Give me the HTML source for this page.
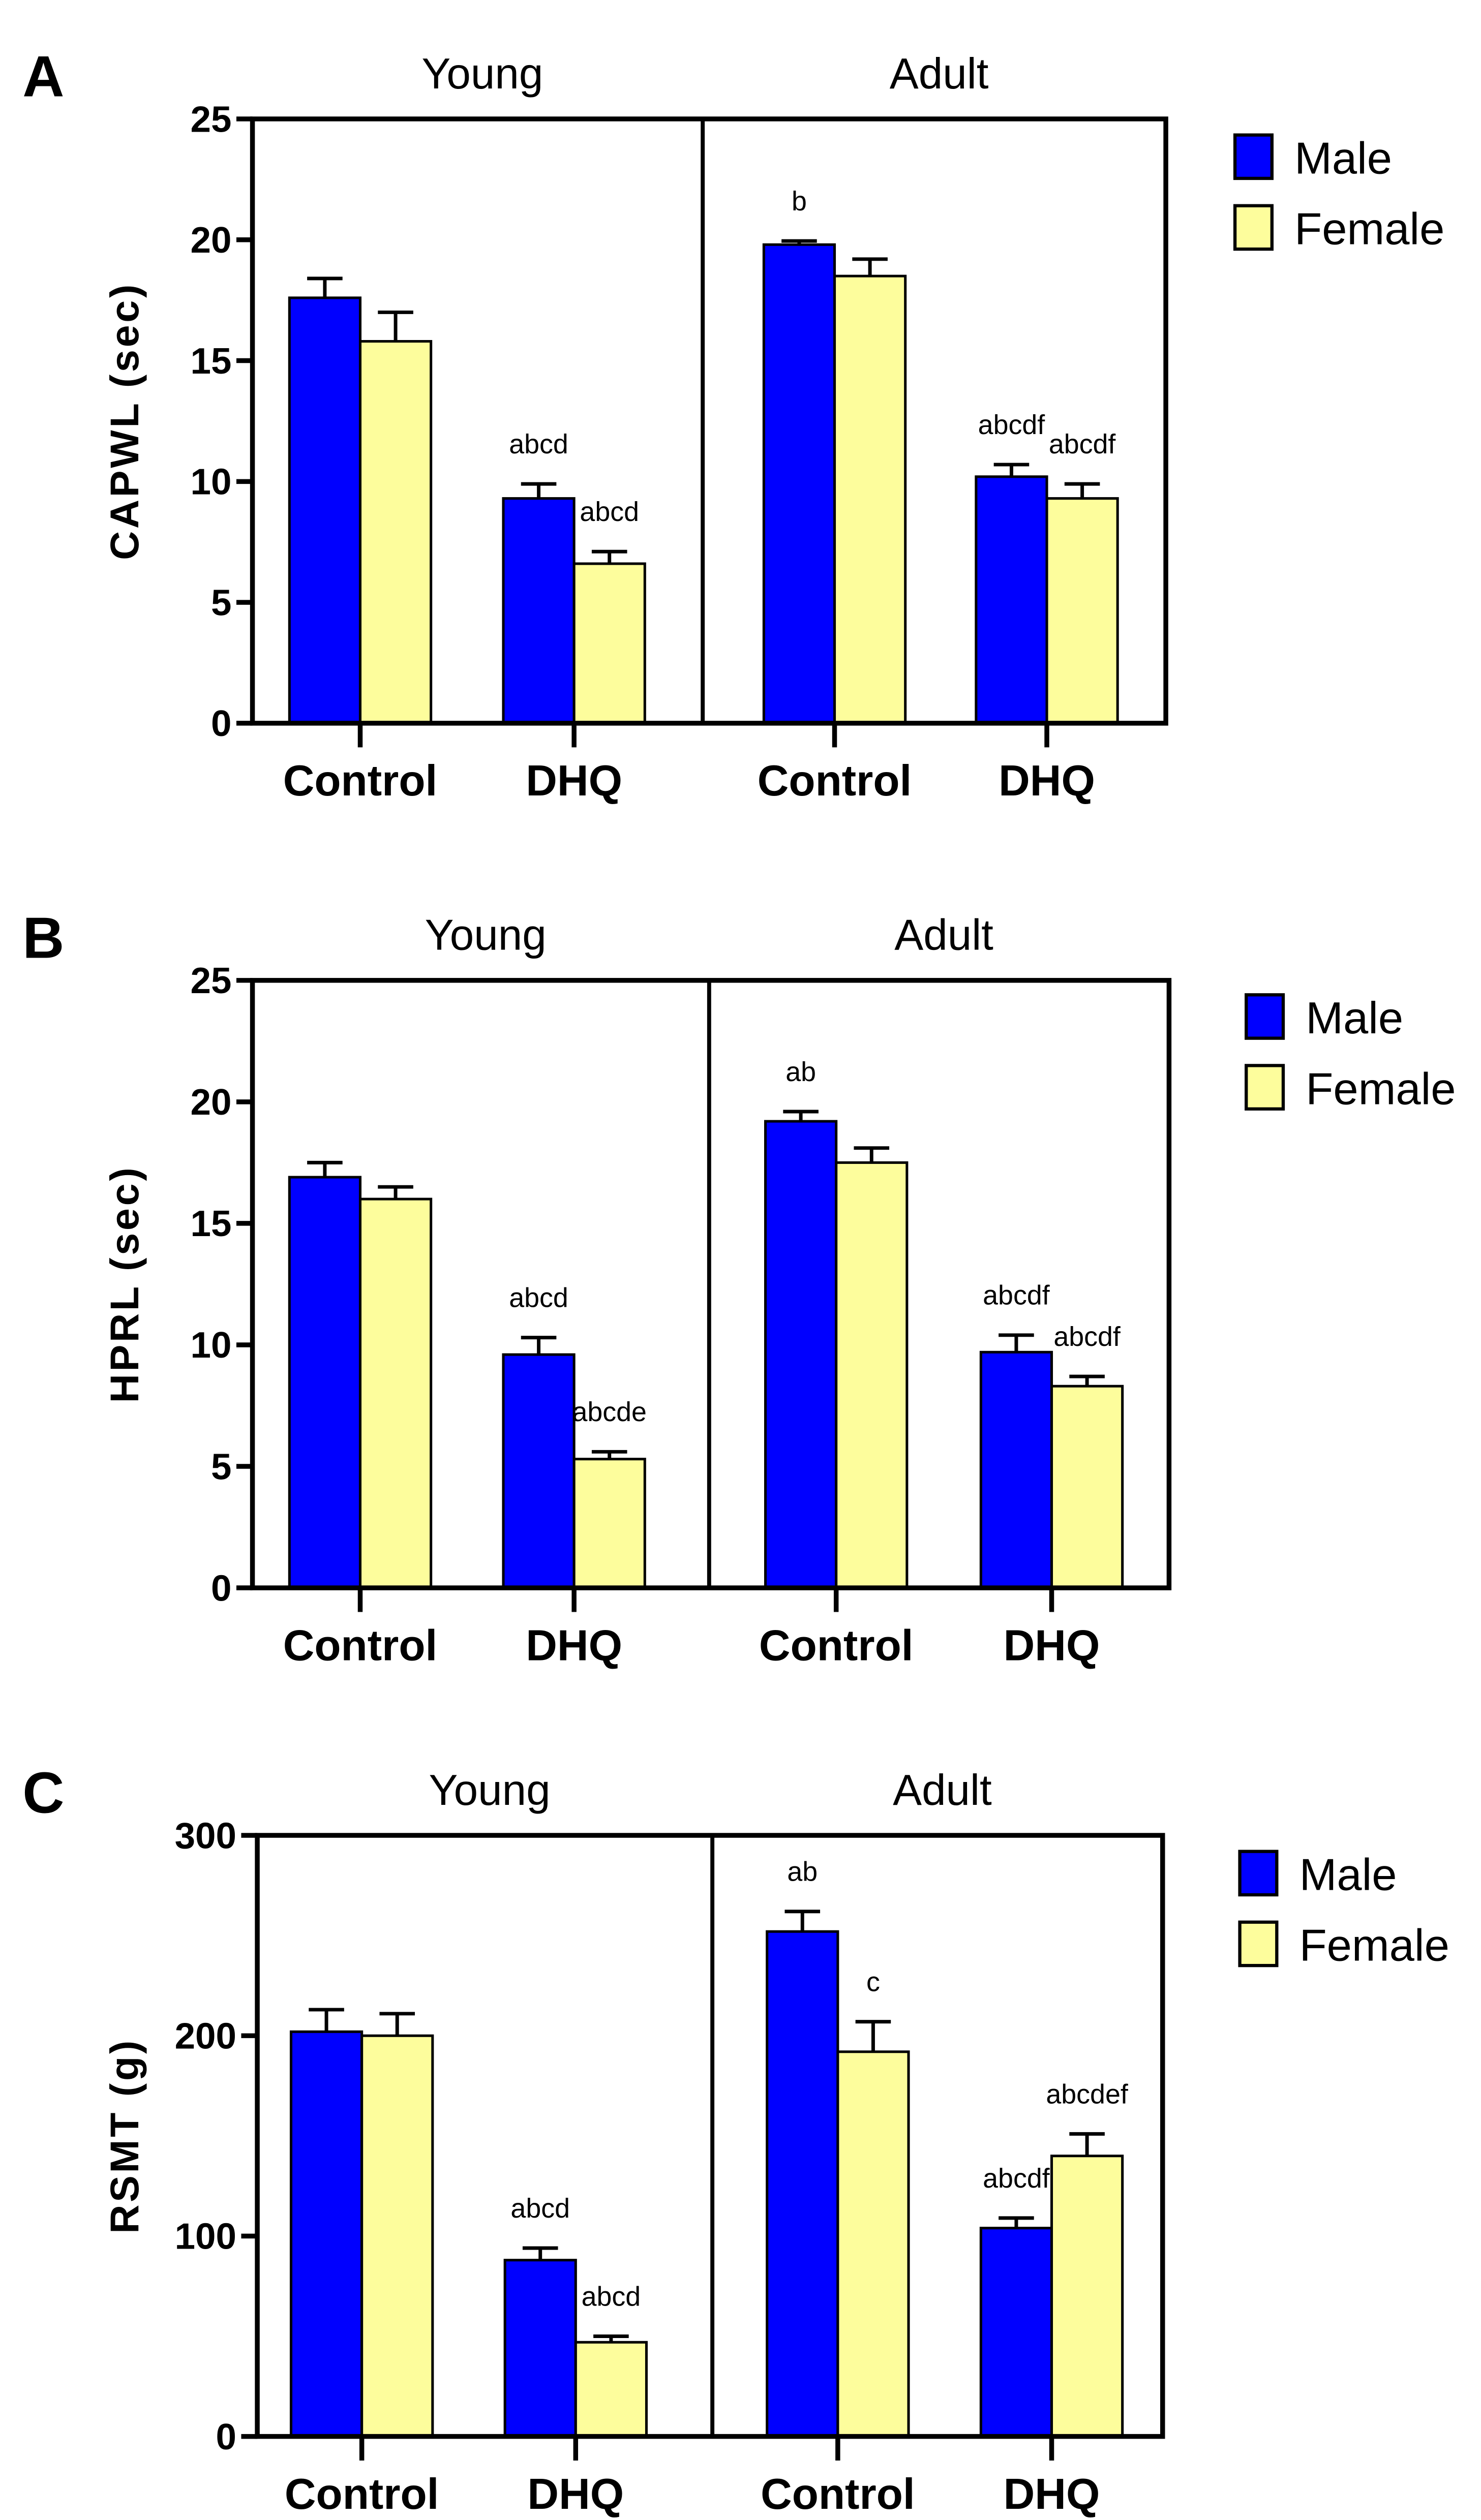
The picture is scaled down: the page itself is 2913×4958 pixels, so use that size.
<!DOCTYPE html>
<html><head><meta charset="utf-8"><style>
html,body{margin:0;padding:0;background:#fff;}
svg{display:block;}
text{font-family:"Liberation Sans",Arial,sans-serif;}
</style></head><body>
<svg id="fig" xmlns="http://www.w3.org/2000/svg" width="2913" height="4958" viewBox="0 0 921 1568" preserveAspectRatio="none"></svg>
<script>
const groups = ["Control","DHQ","Control","DHQ"];
const ages = ["Young","Adult"];
const capwlMale = [17.6, 9.3, 19.8, 10.2];
const capwlMaleErr = [0.8, 0.6, 0.15, 0.5];
const capwlFemale = [15.8, 6.6, 18.5, 9.3];
const capwlFemaleErr = [1.2, 0.5, 0.7, 0.6];
const capwlMaleLbl = ["", "abcd", "b", "abcdf"];
const capwlFemaleLbl = ["", "abcd", "", "abcdf"];
const capwlTicks = [0,5,10,15,20,25];
const hprlMale = [16.9, 9.6, 19.2, 9.7];
const hprlMaleErr = [0.6, 0.7, 0.4, 0.7];
const hprlFemale = [16.0, 5.3, 17.5, 8.3];
const hprlFemaleErr = [0.5, 0.3, 0.6, 0.4];
const hprlMaleLbl = ["", "abcd", "ab", "abcdf"];
const hprlFemaleLbl = ["", "abcde", "", "abcdf"];
const hprlTicks = [0,5,10,15,20,25];
const rsmtMale = [202, 88, 252, 104];
const rsmtMaleErr = [11, 6, 10, 5];
const rsmtFemale = [200, 47, 192, 140];
const rsmtFemaleErr = [11, 3, 15, 11];
const rsmtMaleLbl = ["", "abcd", "ab", "abcdf"];
const rsmtFemaleLbl = ["", "abcd", "c", "abcdef"];
const rsmtTicks = [0,100,200,300];

const NS="http://www.w3.org/2000/svg";
const svg=document.getElementById('fig');
function mk(tag,attrs,parent,txt){const e=document.createElementNS(NS,tag);for(const k in attrs)e.setAttribute(k,attrs[k]);if(txt!==undefined)e.textContent=txt;(parent||svg).appendChild(e);return e;}

function panel(cfg){
  const g=mk('g',{});
  
  
  const ymax=cfg.ticks[cfg.ticks.length-1];
  const Y=v=>cfg.bottom-(v/ymax)*(cfg.bottom-cfg.top);
  const bw=44;
  const pl=mk('text',{x:14,y:cfg.top-14,'font-size':36,'font-weight':'bold'},g,cfg.letter);
  
  
  ages.forEach((a,i)=>{
    const cx=i===0?(cfg.left+cfg.div)/2:(cfg.div+cfg.right)/2;
    const t=mk('text',{x:cx+3,y:cfg.top-19,'font-size':27,'text-anchor':'middle'},g,a);
    
    
  });
  for(let i=0;i<4;i++){
    const c=cfg.centers[i];
    [[cfg.male,cfg.maleErr,cfg.maleLbl,c-bw,'#0000ff','male'],[cfg.female,cfg.femaleErr,cfg.femaleLbl,c,'#fdfd9c','female']].forEach(s=>{
      const v=s[0][i],e=s[1][i],x=s[3];
      const top=Y(v+e), cx=x+bw/2;
      const el=mk('line',{x1:cx,x2:cx,y1:Y(v),y2:top,stroke:'#000','stroke-width':2.2},g);
      
      
      const cap=mk('line',{x1:cx-11,x2:cx+11,y1:top,y2:top,stroke:'#000','stroke-width':2.2},g);
      
      
      const r=mk('rect',{x:x,y:Y(v),width:bw,height:cfg.bottom-Y(v),fill:s[4],stroke:'#000','stroke-width':1.6},g);
      
      
      if(s[2][i]){
        const t=mk('text',{x:cx,y:top-19,'font-size':17,'text-anchor':'middle'},g,s[2][i]);
        
        
      }
    });
  }
  const fr=mk('rect',{x:cfg.left,y:cfg.top,width:cfg.right-cfg.left,height:cfg.bottom-cfg.top,fill:'none',stroke:'#000','stroke-width':3},g);
  
  
  const dv=mk('line',{x1:cfg.div,x2:cfg.div,y1:cfg.top,y2:cfg.bottom,stroke:'#000','stroke-width':2.5},g);
  
  
  cfg.ticks.forEach(t=>{
    const y=Y(t);
    const tl=mk('line',{x1:cfg.left-10,x2:cfg.left,y1:y,y2:y,stroke:'#000','stroke-width':3},g);
    
    
    const tx=mk('text',{x:cfg.left-13,y:y+8,'font-size':23,'font-weight':'bold','text-anchor':'end'},g,String(t));
    
    
  });
  for(let i=0;i<4;i++){
    const c=cfg.centers[i];
    const tl=mk('line',{x1:c,x2:c,y1:cfg.bottom,y2:cfg.bottom+15,stroke:'#000','stroke-width':3},g);
    
    
    const tx=mk('text',{x:c,y:cfg.bottom+45,'font-size':27,'font-weight':'bold','text-anchor':'middle'},g,groups[i]);
    
    
  }
  const cy=(cfg.top+cfg.bottom)/2;
  const yt=mk('text',{x:0,y:0,'font-size':25,'font-weight':'bold','text-anchor':'middle','letter-spacing':1.5,transform:'translate(86,'+cy+') rotate(-90)'},g,cfg.ytitle);
  
  
  [['Male','#0000ff',0],['Female','#fdfd9c',1]].forEach(l=>{
    const ly=cfg.legY+l[2]*44;
    const r=mk('rect',{x:cfg.legX,y:ly,width:23,height:27,fill:l[1],stroke:'#000','stroke-width':2},g);
    
    
    const t=mk('text',{x:cfg.legX+37,y:ly+24,'font-size':28},g,l[0]);
    
    
  });
}

panel({name:'panel-a',letter:'A',ytitle:'CAPWL (sec)',left:157,right:725,div:437,top:74,bottom:450,
  centers:[224,357,519,651],ticks:capwlTicks,male:capwlMale,maleErr:capwlMaleErr,female:capwlFemale,femaleErr:capwlFemaleErr,
  maleLbl:capwlMaleLbl,femaleLbl:capwlFemaleLbl,legX:768,legY:84});
panel({name:'panel-b',letter:'B',ytitle:'HPRL (sec)',left:157,right:727,div:441,top:610,bottom:988,
  centers:[224,357,520,654],ticks:hprlTicks,male:hprlMale,maleErr:hprlMaleErr,female:hprlFemale,femaleErr:hprlFemaleErr,
  maleLbl:hprlMaleLbl,femaleLbl:hprlFemaleLbl,legX:775,legY:619});
panel({name:'panel-c',letter:'C',ytitle:'RSMT (g)',left:160,right:723,div:443,top:1142,bottom:1516,
  centers:[225,358,521,654],ticks:rsmtTicks,male:rsmtMale,maleErr:rsmtMaleErr,female:rsmtFemale,femaleErr:rsmtFemaleErr,
  maleLbl:rsmtMaleLbl,femaleLbl:rsmtFemaleLbl,legX:771,legY:1152});
</script>
</body></html>
